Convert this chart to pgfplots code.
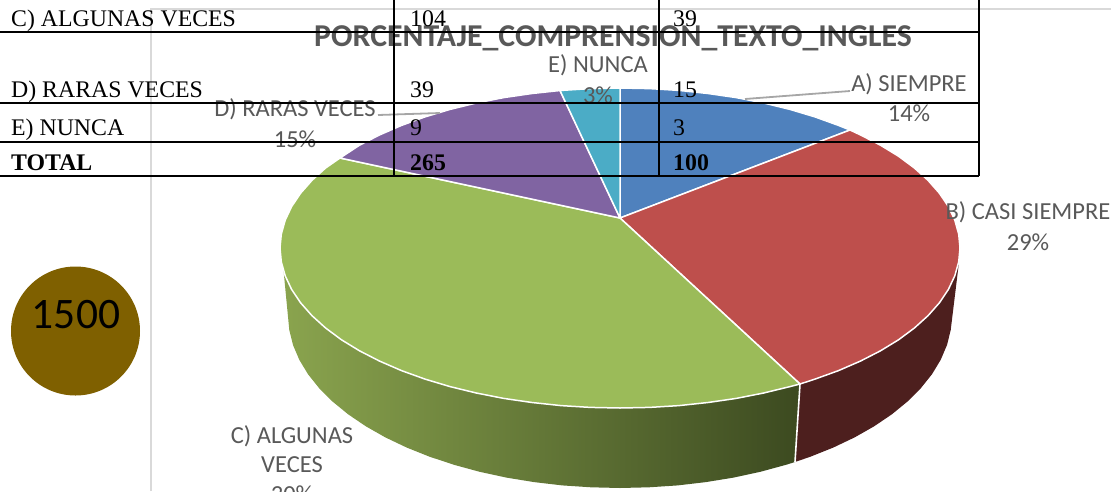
\documentclass[border=0pt]{standalone}
\usepackage{fontspec}
\usepackage{pgfplots}
\pgfplotsset{compat=1.18}
\setmainfont{Liberation Serif}
\newfontfamily\calibri{Carlito}
\definecolor{sliceA}{HTML}{4F81BD}
\definecolor{sliceB}{HTML}{BE4F4C}
\definecolor{sliceC}{HTML}{9BBB59}
\definecolor{sliceD}{HTML}{8064A2}
\definecolor{sliceE}{HTML}{4BACC6}
\definecolor{wallB}{HTML}{4D1F1E}
\definecolor{wallCa}{HTML}{8AA44E}
\definecolor{wallCb}{HTML}{3C4A20}
\definecolor{labelgray}{HTML}{595959}
\definecolor{framegray}{HTML}{D9D9D9}
\definecolor{coin}{HTML}{7F6000}
\tikzset{
  lab/.style={font=\calibri\fontsize{24.5}{26}\selectfont, text=labelgray, anchor=center, inner sep=0pt},
  cell/.style={font=\fontsize{23.8}{26}\selectfont, text=black, anchor=base west, inner sep=0pt},
  cellb/.style={font=\fontsize{23.8}{26}\selectfont\bfseries, text=black, anchor=base west, inner sep=0pt},
  face/.style={draw=white, line width=1.5pt, line join=round}
}
\begin{document}
\begin{tikzpicture}[x=1pt,y=1pt]
\useasboundingbox (0,0) rectangle (1111pt,491pt);
\clip (0,0) rectangle (1111pt,491pt);
\begin{axis}[
  at={(0,0)}, anchor=south west,
  scale only axis, width=1111pt, height=491pt,
  xmin=0, xmax=1111, ymin=0, ymax=491,
  y dir=reverse, hide axis, clip=false
]
% chart frame
\addplot[framegray, line width=2.5pt] coordinates {(151,491) (151,9) (1111,9)};
% side walls
\addplot[fill=wallB, draw=none] coordinates {
  (800,384) (795,462) (810.4,456.7) (833.4,447.5) (854.8,437.3) (874.3,426.2) (892,414.2)
  (907.5,401.5) (920.9,388.1) (932,374.2) (940.7,359.8) (947,345) (950.7,330.1) (959,262)
  (900,300) (800,384)};
\addplot[left color=wallCa, right color=wallCb, draw=none] coordinates {
  (800,384) (795,462) (786,464.8) (760.3,471.8) (733.5,477.6) (705.9,482.1) (677.7,485.4)
  (648.9,487.3) (620,488) (591.1,487.3) (562.3,485.4) (534.1,482.1) (506.5,477.6) (479.7,471.8)
  (454,464.8) (429.6,456.7) (406.6,447.5) (385.2,437.3) (365.7,426.2) (348,414.2) (332.5,401.5)
  (319.1,388.1) (308,374.2) (299.3,359.8) (293,345) (289.3,330.1) (283,265) (400,300) (800,384)};
\addplot[white, line width=1.6pt] coordinates {(800,384) (795,462)};
% top faces
\addplot[fill=sliceA, face] coordinates {
  (620,218) (620,88) (649.6,88.6) (679,90.4) (708,93.5) (736.3,97.6) (763.7,103) (790,109.4)
  (815,116.9) (838.5,125.4) (850,130) (620,218)};
\addplot[fill=sliceB, face] coordinates {
  (620,218) (850,130) (860.4,134.9) (880.5,145.2) (898.5,156.2) (914.4,168) (928.1,180.4)
  (939.5,193.3) (948.4,206.6) (954.8,220.2) (958.7,234.1) (960,248) (958.7,261.9) (954.8,275.8)
  (948.4,289.4) (939.5,302.7) (928.1,315.6) (914.4,328) (898.5,339.8) (880.5,350.8) (860.4,361.1)
  (838.5,370.6) (815,379.1) (800,384) (620,218)};
\addplot[fill=sliceC, face] coordinates {
  (620,218) (800,384) (790,386.6) (763.7,393) (736.3,398.4) (708,402.5) (679,405.6) (649.6,407.4)
  (620,408) (590.4,407.4) (561,405.6) (532,402.5) (503.7,398.4) (476.3,393) (450,386.6) (425,379.1)
  (401.5,370.6) (379.6,361.1) (359.5,350.8) (341.5,339.8) (325.6,328) (311.9,315.6) (300.5,302.7)
  (291.6,289.4) (285.2,275.8) (281.3,261.9) (280,248) (281.3,234.1) (285.2,220.2) (291.6,206.6)
  (300.5,193.3) (311.9,180.4) (325.6,168) (340,158) (620,218)};
\addplot[fill=sliceD, face] coordinates {
  (620,218) (340,158) (359.5,145.2) (379.6,134.9) (401.5,125.4) (425,116.9) (450,109.4)
  (476.3,103) (503.7,97.6) (532,93.5) (560,90.5) (620,218)};
\addplot[fill=sliceE, face] coordinates {
  (620,218) (560,90.5) (590.4,88.6) (620,88) (620,218)};
% leader lines
\addplot[gray!70, line width=1.8pt] coordinates {(745,99) (850,91)};
\addplot[gray!70, line width=1.8pt] coordinates {(378,115) (440,113)};
% title and labels
\node[font=\calibri\bfseries\fontsize{31.8}{33}\selectfont, text=labelgray, anchor=center, inner sep=0pt] at (axis cs:613,38) {PORCENTAJE\_COMPRENSION\_TEXTO\_INGLES};
\node[lab] at (axis cs:909,84) {A) SIEMPRE};
\node[lab] at (axis cs:909,113) {14\%};
\node[lab] at (axis cs:598,65) {E) NUNCA};
\node[lab] at (axis cs:598,95) {3\%};
\node[lab] at (axis cs:295,109) {D) RARAS VECES};
\node[lab] at (axis cs:295,139) {15\%};
\node[lab] at (axis cs:1028,212) {B) CASI SIEMPRE};
\node[lab] at (axis cs:1028,242) {29\%};
\node[lab] at (axis cs:292,436) {C) ALGUNAS};
\node[lab] at (axis cs:292,465) {VECES};
\node[lab] at (axis cs:292,494) {30\%};
% coin
\fill[coin] (axis cs:75.5,331) circle [radius=64.5pt];
\node[font=\calibri\fontsize{43.5}{46}\selectfont, text=black, anchor=center, inner sep=0pt] at (axis cs:76,315) {1500};
% table rules
\addplot[black, line width=1.8pt] coordinates {(0,32) (979,32)};
\addplot[black, line width=1.8pt] coordinates {(0,103) (979,103)};
\addplot[black, line width=1.8pt] coordinates {(0,142) (979,142)};
\addplot[black, line width=1.8pt] coordinates {(0,176) (979,176)};
\addplot[black, line width=1.8pt] coordinates {(394,0) (394,176)};
\addplot[black, line width=1.8pt] coordinates {(659,0) (659,176)};
\addplot[black, line width=1.8pt] coordinates {(979,0) (979,176)};
% table text
\node[cell] at (axis cs:11,26) {C) ALGUNAS VECES};
\node[cell] at (axis cs:410,26) {104};
\node[cell] at (axis cs:673,26) {39};
\node[cell] at (axis cs:11,97) {D) RARAS VECES};
\node[cell] at (axis cs:410,97) {39};
\node[cell] at (axis cs:673,97) {15};
\node[cell] at (axis cs:11,135) {E) NUNCA};
\node[cell] at (axis cs:410,135) {9};
\node[cell] at (axis cs:673,135) {3};
\node[cellb] at (axis cs:11,170) {TOTAL};
\node[cellb] at (axis cs:410,170) {265};
\node[cellb] at (axis cs:673,170) {100};
\end{axis}
\end{tikzpicture}
\end{document}
